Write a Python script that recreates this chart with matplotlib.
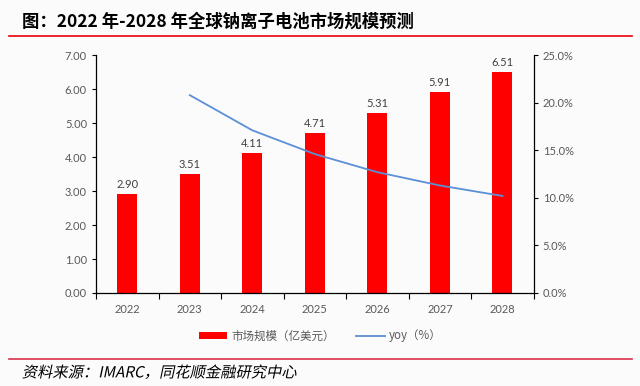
import matplotlib.pyplot as plt
import matplotlib.patheffects as pe
from matplotlib.transforms import Affine2D
import numpy as np

plt.rcParams['font.family'] = ['Lato', 'Noto Sans CJK SC', 'DejaVu Sans']

years = ["2022", "2023", "2024", "2025", "2026", "2027", "2028"]
market = [2.90, 3.51, 4.11, 4.71, 5.31, 5.91, 6.51]
yoy_years = ["2023", "2024", "2025", "2026", "2027", "2028"]
yoy = [20.8, 17.1, 14.6, 12.7, 11.3, 10.2]


# CJK fonts have no italic face, so slant the glyph outlines instead
class Slant(pe.AbstractPathEffect):
    def __init__(self, deg=12):
        super().__init__()
        self.deg = deg

    def draw_path(self, renderer, gc, tpath, affine, rgbFace=None):
        m = affine.get_matrix()
        x0, y0 = m[0, 2], m[1, 2]
        sk = Affine2D().translate(-x0, -y0).skew_deg(self.deg, 0).translate(x0, y0)
        renderer.draw_path(gc, tpath, affine + sk, rgbFace)


bg = "#fbfbfb"
fig = plt.figure(figsize=(6.4, 3.86), dpi=100, facecolor=bg)
ax = fig.add_axes([0.15, 0.241, 0.684, 0.616], facecolor=bg)
ax2 = ax.twinx()

x = np.arange(len(years))
bars = ax.bar(x, market, width=0.32, color="#ff0000", label="市场规模（亿美元）", zorder=2)
for xi, v in zip(x, market):
    ax.text(xi, v + 0.12, f"{v:.2f}", ha="center", va="bottom", fontsize=8, color="#404040")

xl = [years.index(y) for y in yoy_years]
line, = ax2.plot(xl, yoy, color="#5b8fd6", lw=1.3, label="yoy（%）", zorder=3)

ax.set_xlim(-0.5, len(years) - 0.5)
ax.set_ylim(0, 7)
ax.set_yticks(np.arange(0, 7.01, 1))
ax.set_yticklabels([f"{v:.2f}" for v in np.arange(0, 7.01, 1)])
ax2.set_ylim(0, 25)
ax2.set_yticks(np.arange(0, 25.01, 5))
ax2.set_yticklabels([f"{v:.1f}%" for v in np.arange(0, 25.01, 5)])

ax.set_xticks(x)
ax.set_xticklabels(years)
ax.set_xticks(np.arange(-0.5, len(years), 1), minor=True)
ax.tick_params(axis="x", which="major", length=0, pad=8, labelsize=8, labelcolor="#595959")
ax.tick_params(axis="x", which="minor", length=4, width=0.8, direction="out")
ax.tick_params(axis="y", length=3, width=0.8, labelsize=8, labelcolor="#595959")
ax2.tick_params(axis="y", length=3, width=0.8, labelsize=8, labelcolor="#595959")

for a in (ax, ax2):
    a.spines["top"].set_visible(False)
    for s in ("left", "right", "bottom"):
        a.spines[s].set_color("black")
        a.spines[s].set_linewidth(0.9)
ax.spines["right"].set_visible(False)
ax2.spines["left"].set_visible(False)
ax2.spines["bottom"].set_visible(False)

fig.legend(handles=[bars, line], loc="center", bbox_to_anchor=(0.5, 0.13), ncol=2,
           frameon=False, labelcolor="#595959", handlelength=2.5, handletextpad=0.35,
           handleheight=0.5, columnspacing=1.8, prop={"family": ["Noto Sans CJK SC"], "size": 8.3})

fig.text(0.034, 0.945, "图：2022 年-2028 年全球钠离子电池市场规模预测", fontsize=12.5,
         fontweight="bold", family=["Noto Sans CJK SC"], va="center", color="black")
fig.add_artist(plt.Line2D([0.014, 0.988], [0.907, 0.907], color="#e8000d", lw=1.2))
fig.add_artist(plt.Line2D([0.014, 0.988], [0.07, 0.07], color="#d9304a", lw=1.2))
fig.text(0.034, 0.034, "资料来源：IMARC，同花顺金融研究中心", fontsize=11,
         family=["Noto Sans CJK SC"], va="center", color="black",
         path_effects=[Slant(12)])

fig.savefig("out.png", dpi=100, facecolor=bg)
